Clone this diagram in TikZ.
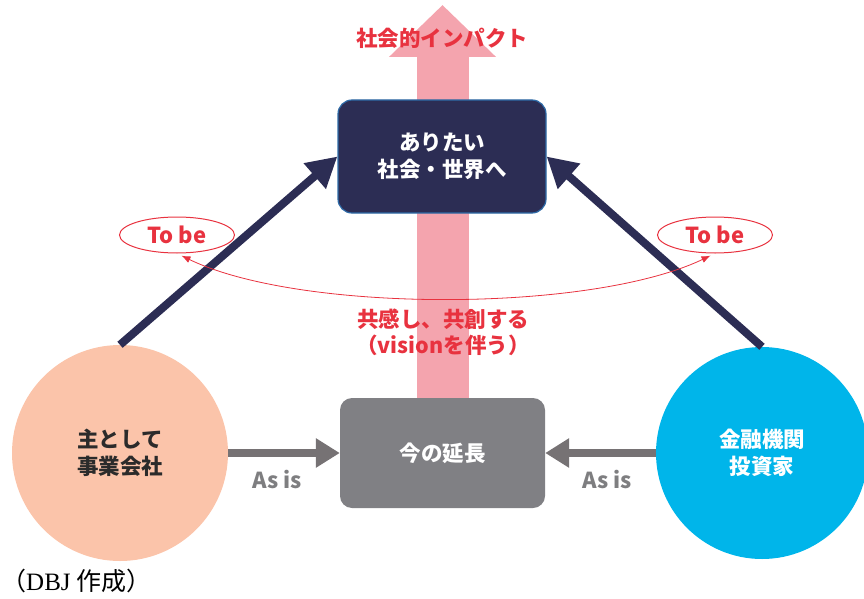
\documentclass[tikz,border=0pt]{standalone}
\usepackage{fontspec}
\newfontfamily\jp{Noto Sans CJK JP}
\newfontfamily\capserif{Liberation Serif}
\usetikzlibrary{arrows.meta,backgrounds,shapes.geometric}
\definecolor{navy}{HTML}{2C2D54}
\definecolor{boxblue}{HTML}{2E6BA8}
\definecolor{peach}{HTML}{FBC4AA}
\definecolor{cyanc}{HTML}{00B5EA}
\definecolor{graybox}{HTML}{808084}
\definecolor{grayarrow}{HTML}{767274}
\definecolor{graytext}{HTML}{7E7E80}
\definecolor{pinkc}{HTML}{F4A4AE}
\definecolor{redc}{HTML}{E8323F}
\definecolor{darktext}{HTML}{2B2B2B}
\tikzset{
  jptext/.style={font=\jp\bfseries\fontsize{21.5}{27}\selectfont, align=center},
  boxnode/.style={rectangle, rounded corners=14pt, jptext, text=white},
  circnode/.style={circle, jptext, inner sep=0pt},
  tobe/.style={ellipse, draw=redc, line width=1pt, minimum width=115pt, minimum height=36pt, inner sep=0pt, text=redc, font=\jp\bfseries\fontsize{22}{24}\selectfont},
  asis/.style={text=graytext, font=\jp\bfseries\fontsize{22}{24}\selectfont},
  navyarrow/.style={draw=navy, line width=8pt, -{Triangle[length=30pt,width=32pt]}},
  grayarr/.style={draw=grayarrow, line width=8pt, -{Triangle[length=24pt,width=28pt]}},
  pinkarrow/.style={draw=pinkc, line width=52pt, -{Triangle[length=52pt,width=104pt]}},
  redlabel/.style={text=redc, font=\jp\bfseries\fontsize{21.5}{26}\selectfont, align=center},
}
\begin{document}
\begin{tikzpicture}[x=1pt,y=-1pt]
\useasboundingbox (0,0) rectangle (864,599);
\clip (0,0) rectangle (864,599);

\node[boxnode, fill=navy, draw=boxblue, line width=1.2pt, minimum width=208pt, minimum height=113pt] (top) at (442,156.5) {ありたい\\社会・世界へ};
\node[boxnode, rounded corners=12pt, fill=graybox, minimum width=205pt, minimum height=110pt] (now) at (442.5,453) {今の延長};
\node[circnode, fill=peach, text=darktext, minimum size=216pt] (L) at (120,453) {主として\\事業会社};
\node[circnode, fill=cyanc, text=white, minimum size=212pt] (R) at (762,453) {金融機関\\投資家};

\coordinate (tip) at (442.5,5);
\begin{scope}[on background layer]
  \draw[pinkarrow] (now.north) -- (tip);
\end{scope}

\node[redlabel] (impact) at (442,38) {社会的インパクト};

\draw[navyarrow] (L.north) -- (top.west);
\draw[navyarrow] (R.north) -- (top.east);

\draw[grayarr] (L.east) -- (now.west);
\draw[grayarr] (R.west) -- (now.east);

\node[asis] (asisL) at (277,480) {As is};
\node[asis] (asisR) at (607,480) {As is};

\node[tobe] (tobeL) at (177,235) {To be};
\node[tobe] (tobeR) at (715,235) {To be};

\draw[redc, line width=0.8pt, shorten <=5pt, shorten >=5pt, {Latex[length=9pt,width=7pt]}-{Latex[length=9pt,width=7pt]}]
  (tobeL.south) .. controls (300,313) and (590,313) .. (tobeR.south);

\node[redlabel] (cocreate) at (443,332) {共感し、共創する\\（visionを伴う）};

\node[anchor=west, inner sep=0pt, font=\fontsize{25}{27}\selectfont] (src) at (1,581) {\jp （\capserif DBJ \jp 作成）};
\end{tikzpicture}
\end{document}
